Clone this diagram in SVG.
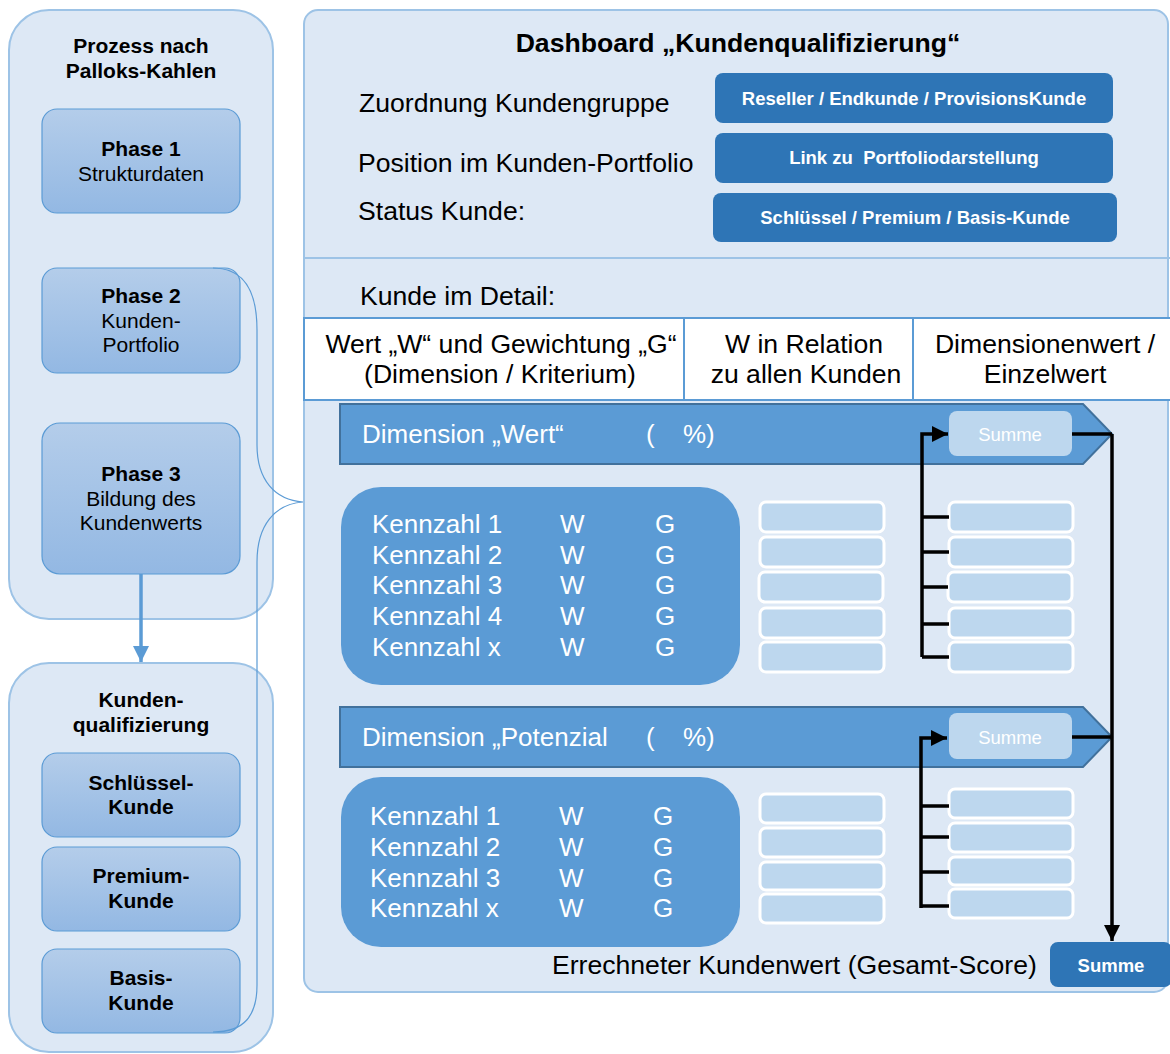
<svg xmlns="http://www.w3.org/2000/svg" width="1170" height="1054" viewBox="0 0 1170 1054">
  <style>
    text { font-family: "Liberation Sans", Arial, sans-serif; }
    .panel { fill: #dde8f5; stroke: #9dc3e6; stroke-width: 2; }
    .phase { fill: url(#phaseGrad); stroke: #5b9bd5; stroke-width: 1.2; }
    .lt { font-size: 21px; fill: #000; text-anchor: middle; }
    .b { font-weight: bold; }
    .main { font-size: 26.6px; fill: #000; }
    .btn { fill: #2e75b6; }
    .btnt { font-size: 18.5px; font-weight: bold; fill: #fff; text-anchor: middle; }
    .cell { fill: #fff; stroke: #5b9bd5; stroke-width: 2; }
    .dim { fill: #5b9bd5; stroke: #41719c; stroke-width: 2; }
    .kz { fill: #5b9bd5; }
    .wt { font-size: 26px; fill: #fff; }
    .sbox { fill: #bdd7ee; }
    .val { fill: #bdd7ee; stroke: #fff; stroke-width: 3; }
    .conn { stroke: #000; stroke-width: 3.5; fill: none; }
  </style>
  <defs>
    <linearGradient id="phaseGrad" x1="0" y1="0" x2="0" y2="1">
      <stop offset="0" stop-color="#b4cdea"/>
      <stop offset="1" stop-color="#93b8e3"/>
    </linearGradient>
    <marker id="blk" markerUnits="userSpaceOnUse" markerWidth="18" markerHeight="18" refX="16" refY="8" orient="auto">
      <path d="M0,0 L16,8 L0,16 Z" fill="#000"/>
    </marker>
    <marker id="blu" markerUnits="userSpaceOnUse" markerWidth="18" markerHeight="18" refX="16" refY="8" orient="auto">
      <path d="M0,0 L16,8 L0,16 Z" fill="#5b9bd5"/>
    </marker>
  </defs>

  <!-- left column: process -->
  <g id="process">
    <rect class="panel" x="9" y="10" width="264" height="609" rx="40"/>
    <text class="lt b" x="141" y="53">Prozess nach</text>
    <text class="lt b" x="141" y="78">Palloks-Kahlen</text>
  </g>
  <g id="phase1">
    <rect class="phase" x="42" y="109" width="198" height="104" rx="15"/>
    <text class="lt b" x="141" y="156">Phase 1</text>
    <text class="lt" x="141" y="181">Strukturdaten</text>
  </g>
  <g id="phase2">
    <rect class="phase" x="42" y="268" width="198" height="105" rx="15"/>
    <text class="lt b" x="141" y="303">Phase 2</text>
    <text class="lt" x="141" y="328">Kunden-</text>
    <text class="lt" x="141" y="352">Portfolio</text>
  </g>
  <g id="phase3">
    <rect class="phase" x="42" y="423" width="198" height="151" rx="18"/>
    <text class="lt b" x="141" y="481">Phase 3</text>
    <text class="lt" x="141" y="506">Bildung des</text>
    <text class="lt" x="141" y="530">Kundenwerts</text>
  </g>

  <!-- left column: qualification -->
  <g id="qualification">
    <rect class="panel" x="9" y="663" width="264" height="389" rx="40"/>
    <text class="lt b" x="141" y="707">Kunden-</text>
    <text class="lt b" x="141" y="732">qualifizierung</text>
  </g>
  <g id="key-customer">
    <rect class="phase" x="42" y="753" width="198" height="84" rx="15"/>
    <text class="lt b" x="141" y="790">Schlüssel-</text>
    <text class="lt b" x="141" y="814">Kunde</text>
  </g>
  <g id="premium-customer">
    <rect class="phase" x="42" y="847" width="198" height="84" rx="15"/>
    <text class="lt b" x="141" y="883">Premium-</text>
    <text class="lt b" x="141" y="908">Kunde</text>
  </g>
  <g id="basic-customer">
    <rect class="phase" x="42" y="949" width="198" height="84" rx="15"/>
    <text class="lt b" x="141" y="985">Basis-</text>
    <text class="lt b" x="141" y="1010">Kunde</text>
  </g>

  <!-- dashboard -->
  <g id="dashboard">
    <rect class="panel" x="304" y="10" width="864" height="982" rx="14"/>
    <line x1="304" y1="258" x2="1170" y2="258" stroke="#9dc3e6" stroke-width="2"/>
    <text class="main b" x="738" y="52" text-anchor="middle" font-size="26px">Dashboard „Kundenqualifizierung“</text>
    <text class="main" x="359" y="112">Zuordnung Kundengruppe</text>
    <text class="main" x="358" y="172">Position im Kunden-Portfolio</text>
    <text class="main" x="358" y="220">Status Kunde:</text>
    <text class="main" x="360" y="305">Kunde im Detail:</text>
  </g>
  <g id="customer-group">
    <rect class="btn" x="715" y="73" width="398" height="50" rx="8"/>
    <text class="btnt" x="914" y="105">Reseller / Endkunde / ProvisionsKunde</text>
  </g>
  <g id="portfolio-link">
    <rect class="btn" x="715" y="133" width="398" height="50" rx="8"/>
    <text class="btnt" x="914" y="164">Link zu&#160; Portfoliodarstellung</text>
  </g>
  <g id="customer-status">
    <rect class="btn" x="713" y="193" width="404" height="49" rx="8"/>
    <text class="btnt" x="915" y="224">Schlüssel / Premium / Basis-Kunde</text>
  </g>

  <!-- detail table header -->
  <g id="table-header">
    <rect class="cell" x="304" y="318" width="380" height="82"/>
    <rect class="cell" x="684" y="318" width="229" height="82"/>
    <rect class="cell" x="913" y="318" width="259" height="82"/>
    <text class="main" x="501" y="353" text-anchor="middle">Wert „W“ und Gewichtung „G“</text>
    <text class="main" x="500" y="383" text-anchor="middle">(Dimension / Kriterium)</text>
    <text class="main" x="804" y="353" text-anchor="middle">W in Relation</text>
    <text class="main" x="806" y="383" text-anchor="middle">zu allen Kunden</text>
    <text class="main" x="1045" y="353" text-anchor="middle">Dimensionenwert /</text>
    <text class="main" x="1045" y="383" text-anchor="middle">Einzelwert</text>
  </g>

  <!-- dimension "Wert" -->
  <g id="dimension-wert">
    <path class="dim" d="M340,404 L1083,404 L1112,434 L1083,464 L340,464 Z"/>
    <text class="wt" x="362" y="443">Dimension „Wert“</text>
    <text class="wt" x="646" y="443">(</text>
    <text class="wt" x="683" y="443">%)</text>
    <rect class="sbox" x="949" y="411" width="123" height="45" rx="8"/>
    <text x="1010" y="441" font-size="18.5px" fill="#fff" text-anchor="middle">Summe</text>
  </g>
  <g id="kennzahlen-wert">
    <rect class="kz" x="341" y="487" width="399" height="198" rx="40"/>
    <g class="wt">
      <text x="372" y="533">Kennzahl 1</text><text x="560" y="533">W</text><text x="655" y="533">G</text>
      <text x="372" y="564">Kennzahl 2</text><text x="560" y="564">W</text><text x="655" y="564">G</text>
      <text x="372" y="594">Kennzahl 3</text><text x="560" y="594">W</text><text x="655" y="594">G</text>
      <text x="372" y="625">Kennzahl 4</text><text x="560" y="625">W</text><text x="655" y="625">G</text>
      <text x="372" y="656">Kennzahl x</text><text x="560" y="656">W</text><text x="655" y="656">G</text>
    </g>
  </g>
  <g id="relation-wert">
    <rect class="val" x="760" y="502" width="124" height="30" rx="6"/>
    <rect class="val" x="760" y="537" width="124" height="30" rx="6"/>
    <rect class="val" x="759" y="572" width="124" height="30" rx="6"/>
    <rect class="val" x="760" y="608" width="124" height="30" rx="6"/>
    <rect class="val" x="760" y="642" width="124" height="30" rx="6"/>
  </g>
  <g id="einzelwert-wert">
    <rect class="val" x="949" y="502" width="124" height="30" rx="6"/>
    <rect class="val" x="949" y="537" width="124" height="30" rx="6"/>
    <rect class="val" x="948" y="572" width="124" height="30" rx="6"/>
    <rect class="val" x="949" y="608" width="124" height="30" rx="6"/>
    <rect class="val" x="949" y="642" width="124" height="30" rx="6"/>
  </g>

  <!-- dimension "Potenzial" -->
  <g id="dimension-potenzial">
    <path class="dim" d="M340,707 L1083,707 L1112,737 L1083,767 L340,767 Z"/>
    <text class="wt" x="362" y="746">Dimension „Potenzial</text>
    <text class="wt" x="646" y="746">(</text>
    <text class="wt" x="683" y="746">%)</text>
    <rect class="sbox" x="949" y="713" width="123" height="46" rx="8"/>
    <text x="1010" y="744" font-size="18.5px" fill="#fff" text-anchor="middle">Summe</text>
  </g>
  <g id="kennzahlen-potenzial">
    <rect class="kz" x="341" y="777" width="399" height="170" rx="40"/>
    <g class="wt">
      <text x="370" y="825">Kennzahl 1</text><text x="559" y="825">W</text><text x="653" y="825">G</text>
      <text x="370" y="856">Kennzahl 2</text><text x="559" y="856">W</text><text x="653" y="856">G</text>
      <text x="370" y="887">Kennzahl 3</text><text x="559" y="887">W</text><text x="653" y="887">G</text>
      <text x="370" y="917">Kennzahl x</text><text x="559" y="917">W</text><text x="653" y="917">G</text>
    </g>
  </g>
  <g id="relation-potenzial">
    <rect class="val" x="760" y="794" width="124" height="29" rx="6"/>
    <rect class="val" x="760" y="828" width="124" height="29" rx="6"/>
    <rect class="val" x="760" y="862" width="124" height="28" rx="6"/>
    <rect class="val" x="760" y="894" width="124" height="29" rx="6"/>
  </g>
  <g id="einzelwert-potenzial">
    <rect class="val" x="949" y="789" width="124" height="29" rx="6"/>
    <rect class="val" x="949" y="823" width="124" height="29" rx="6"/>
    <rect class="val" x="949" y="857" width="124" height="28" rx="6"/>
    <rect class="val" x="949" y="889" width="124" height="29" rx="6"/>
  </g>

  <!-- total score -->
  <g id="total">
    <text class="main" x="552" y="974">Errechneter Kundenwert (Gesamt-Score)</text>
    <rect class="btn" x="1050" y="942" width="122" height="45" rx="8"/>
    <text class="btnt" x="1111" y="972">Summe</text>
  </g>

  <!-- connectors -->
  <g id="connectors">
    <line x1="141" y1="574" x2="141" y2="662" stroke="#5b9bd5" stroke-width="3.5" marker-end="url(#blu)"/>
    <path d="M213,268 C245,268 257,292 257,330 L257,445 C257,480 275,500 303,502 C275,504 257,525 257,562 L257,985 C257,1015 245,1032 213,1032" fill="none" stroke="#5b9bd5" stroke-width="1.2"/>

    <path class="conn" d="M922,657 L922,434 L948,434" marker-end="url(#blk)"/>
    <path class="conn" d="M922,517 H949 M922,552 H949 M922,587 H948 M922,624 H949 M922,657 H949"/>
    <path class="conn" d="M921,908 L921,738 L947,738" marker-end="url(#blk)"/>
    <path class="conn" d="M921,806 H949 M921,837 H949 M921,872 H949 M921,906 H949"/>

    <path class="conn" d="M1072,434 H1112 M1072,737 H1112"/>
    <line class="conn" x1="1112" y1="434" x2="1112" y2="941" marker-end="url(#blk)"/>
  </g>
</svg>
